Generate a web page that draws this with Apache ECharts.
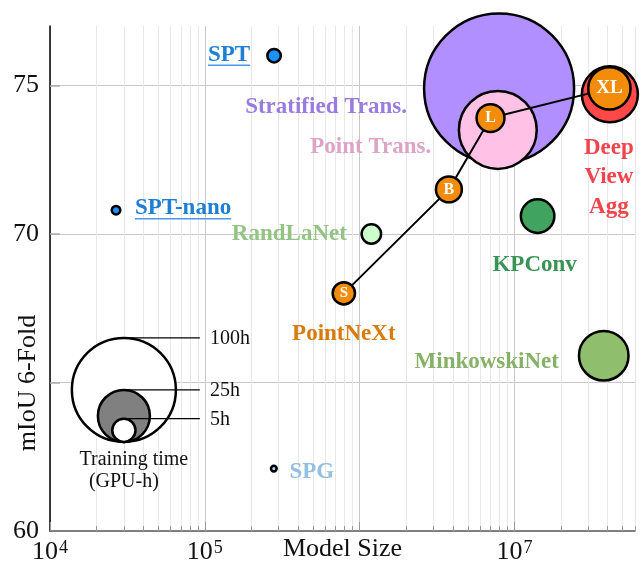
<!DOCTYPE html>
<html><head><meta charset="utf-8">
<script src="https://cdn.jsdelivr.net/npm/echarts@6/dist/echarts.min.js"></script>
<style>html,body{margin:0;padding:0;background:#fff}#c{width:641px;height:564px}</style>
</head><body><div id="c"></div>
<script>
// ---------- data ----------
const models      = ['SPT', 'SPT-nano', 'SPG', 'RandLaNet', 'Stratified Trans.', 'Point Trans.', 'DeepViewAgg', 'KPConv', 'MinkowskiNet'];
const modelLabels = ['SPT', 'SPT-nano', 'SPG', 'RandLaNet', 'Stratified Trans.', 'Point Trans.', 'Deep\nView\nAgg', 'KPConv', 'MinkowskiNet'];
const modelSize   = [2.8e5, 2.67e4, 2.79e5, 1.19e6, 7.95e6, 7.8e6, 4.13e7, 1.41e7, 3.77e7];
const modelMiou   = [76.0, 70.8, 62.1, 70.0, 74.9, 73.5, 74.7, 70.6, 65.9];
const modelHours  = [1.66, 0.68, 0.3, 3.5, 208, 56, 29, 10.4, 22.7];

const pnxName     = 'PointNeXt';
const pnxVariants = ['S', 'B', 'L', 'XL'];
const pnxSize     = [7.9e5, 3.77e6, 7.0e6, 4.1e7];
const pnxMiou     = [68.0, 71.5, 73.9, 74.9];
const pnxHours    = [4.6, 6.2, 7.2, 16.5];

const legendHours  = [100, 25, 5];
const legendLabels = ['100h', '25h', '5h'];
const legendTitle  = ['Training time', '(GPU-h)'];

const xMajorTicks = [1e4, 1e5, 1e6, 1e7];
const xLabelTicks = [1e4, 1e5, 1e7];
const yTicks      = [65, 70, 75];
const yLabelTicks = [60, 70, 75];
const xName = 'Model Size';
const yName = 'mIoU 6-Fold';

// ---------- styles ----------
const FONT = '"Liberation Serif", "Times New Roman", serif';
const K = 5.2;                       // radius px per sqrt(hour)
const sz = h => 2 * K * Math.sqrt(h);
const styles = {
  'SPT':               {fill: '#1e90ff', text: '#1f7fd4', off: [-45, -1], underline: true},
  'SPT-nano':          {fill: '#1e90ff', text: '#1f7fd4', off: [67, -2], underline: true},
  'SPG':               {fill: '#a8d4f2', text: '#94bfe0', off: [38, 3]},
  'RandLaNet':         {fill: '#ccffcc', text: '#93c483', off: [-82, 0]},
  'Stratified Trans.': {fill: '#b28fff', text: '#9a7ce0', off: [-173, 19]},
  'Point Trans.':      {fill: '#ffc2e6', text: '#dea4c6', off: [-127, 17]},
  'DeepViewAgg':       {fill: '#ff4848', text: '#f2454b', off: [-1, 83]},
  'KPConv':            {fill: '#40a460', text: '#389354', off: [-3, 49]},
  'MinkowskiNet':      {fill: '#8fbf6c', text: '#86b267', off: [-117, 6]}
};
const pnxFill = '#f28c0a', pnxText = '#d77b0c', pnxLabelOff = [0, 41];
const legendAnchor = [3e4, 63];
const legendFills = ['#ffffff', '#808080', '#ffffff'];
const LABEL_FS = 23;

// minor log ticks
const xMinor = [];
for (let d = 4; d <= 7; d++) for (let m = 2; m <= 9; m++) { const v = m * Math.pow(10, d); if (v <= 6e7) xMinor.push(v); }

// draw order: big bubbles first
const order = models.map((_, i) => i).sort((a, b) => modelHours[b] - modelHours[a]);

const modelData = order.map(i => {
  const st = styles[models[i]];
  return {
    name: models[i],
    value: [modelSize[i], modelMiou[i], modelHours[i]],
    itemStyle: {color: st.fill, borderColor: '#000', borderWidth: 2.5, opacity: 1},
    label: {
      show: true, position: 'inside', offset: st.off, formatter: modelLabels[i],
      color: st.text, fontFamily: FONT, fontWeight: 'bold', fontSize: LABEL_FS, lineHeight: 29.5
    }
  };
});

const chart = echarts.init(document.getElementById('c'), null, {renderer: 'canvas'});
const option = {
  animation: false,
  backgroundColor: '#fff',
  grid: {left: 50, right: 6, top: 26, bottom: 33, containLabel: false, outerBoundsMode: 'none'},
  xAxis: [{
    type: 'log', logBase: 10, min: 1e4, max: 6e7, position: 'bottom',
    axisLine: {show: true, lineStyle: {color: '#555', width: 1.5}},
    axisTick: {show: true, inside: true, length: 9, customValues: xMajorTicks, lineStyle: {color: '#999', width: 1}},
    splitLine: {show: true, lineStyle: {color: '#c8c8c8', width: 1}},
    axisLabel: {
      show: true, customValues: xLabelTicks, margin: 8,
      formatter: v => '{b|10}{s|' + Math.round(Math.log10(v)) + '}',
      rich: {
        b: {fontFamily: FONT, fontSize: 26, color: '#111'},
        s: {fontFamily: FONT, fontSize: 18, color: '#111', verticalAlign: 'top', padding: [0, 0, 0, 1]}
      }
    },
    name: xName, nameLocation: 'middle', nameGap: 5, nameMoveOverlap: false,
    nameTextStyle: {fontFamily: FONT, fontSize: 26, color: '#111', verticalAlign: 'top'}
  }, {
    type: 'log', logBase: 10, min: 1e4, max: 6e7, position: 'bottom', gridIndex: 0,
    axisLine: {show: false},
    axisTick: {show: true, inside: true, length: 5, customValues: xMinor, lineStyle: {color: '#999', width: 1}},
    splitLine: {show: true, lineStyle: {color: '#e8e8e8', width: 1}},
    axisLabel: {show: false}
  }],
  yAxis: {
    type: 'value', min: 60, max: 77, interval: 5,
    axisLine: {show: true, lineStyle: {color: '#000', width: 1.5}},
    axisTick: {show: true, inside: true, length: 10, customValues: yTicks, lineStyle: {color: '#aaa', width: 1.5}},
    splitLine: {show: true, lineStyle: {color: '#c8c8c8', width: 1}},
    axisLabel: {show: true, customValues: yLabelTicks, fontFamily: FONT, fontSize: 26, color: '#111', margin: 11}
  },
  series: [
    {
      name: 'legend', type: 'scatter', clip: false, silent: true, z: 3,
      symbol: 'circle', symbolOffset: [0, '-50%'],
      symbolSize: v => sz(v[2]),
      data: legendHours.map((h, i) => ({value: [legendAnchor[0], legendAnchor[1], h],
        itemStyle: {color: legendFills[i], borderColor: '#000', borderWidth: 2.5, opacity: 1}}))
    },
    {
      name: 'models', type: 'scatter', clip: false, silent: true, z: 4,
      symbol: 'circle', symbolSize: v => sz(v[2]),
      itemStyle: {opacity: 1},
      data: modelData
    },
    {
      name: pnxName, type: 'line', clip: false, silent: true, z: 5,
      symbol: 'circle', showSymbol: true, symbolSize: v => sz(v[2]),
      lineStyle: {color: '#000', width: 2},
      itemStyle: {color: pnxFill, borderColor: '#000', borderWidth: 2.5, opacity: 1},
      label: {
        show: true, position: 'inside', color: '#fff', fontFamily: FONT, fontWeight: 'bold',
        formatter: p => pnxVariants[p.dataIndex],
        fontSize: 16
      },
      data: pnxVariants.map((n, i) => ({
        value: [pnxSize[i], pnxMiou[i], pnxHours[i]],
        label: {fontSize: Math.round(11 + sz(pnxHours[i]) * 0.19)}
      }))
    },
    {
      name: pnxName + ' label', type: 'scatter', clip: false, silent: true, z: 6,
      symbol: 'circle', symbolSize: 1, itemStyle: {color: 'rgba(0,0,0,0)', opacity: 1},
      label: {show: true, position: 'inside', offset: pnxLabelOff, formatter: pnxName,
        color: pnxText, fontFamily: FONT, fontWeight: 'bold', fontSize: LABEL_FS},
      data: [[pnxSize[0], pnxMiou[0]]]
    }
  ]
};
chart.setOption(option);

// ---------- decorations computed from axis scales ----------
const graphics = [];
const a = chart.convertToPixel({gridIndex: 0}, legendAnchor);
legendHours.forEach((h, i) => {
  const topY = a[1] - sz(h);
  graphics.push({type: 'line', silent: true, z: 10,
    shape: {x1: a[0], y1: topY, x2: a[0] + 76, y2: topY},
    style: {stroke: '#000', lineWidth: 1.2}});
  graphics.push({type: 'text', silent: true, z: 10, x: a[0] + 86, y: topY + 1,
    style: {text: legendLabels[i], font: '20px ' + FONT, fill: '#111', align: 'left', verticalAlign: 'middle'}});
});
graphics.push({type: 'text', silent: true, z: 10, x: a[0] + 10, y: a[1] + 18,
  style: {text: legendTitle[0], font: '20px ' + FONT, fill: '#111', align: 'center', verticalAlign: 'middle'}});
graphics.push({type: 'text', silent: true, z: 10, x: a[0], y: a[1] + 40,
  style: {text: legendTitle[1], font: '20px ' + FONT, fill: '#111', align: 'center', verticalAlign: 'middle'}});

// y axis title
graphics.push({type: 'text', silent: true, z: 10, x: 28, y: 383, rotation: Math.PI / 2,
  style: {text: yName, font: '26px ' + FONT, fill: '#111', align: 'center', verticalAlign: 'middle'}});

// underlines for SPT labels
const ctx = document.createElement('canvas').getContext('2d');
ctx.font = 'bold ' + LABEL_FS + 'px ' + FONT;
models.forEach((m, i) => {
  const st = styles[m];
  if (!st.underline) return;
  const p = chart.convertToPixel({gridIndex: 0}, [modelSize[i], modelMiou[i]]);
  const w = ctx.measureText(modelLabels[i]).width;
  const cx = p[0] + st.off[0], cy = p[1] + st.off[1] + 10.5;
  graphics.push({type: 'line', silent: true, z: 10,
    shape: {x1: cx - w / 2, y1: cy, x2: cx + w / 2, y2: cy},
    style: {stroke: '#4a98e6', lineWidth: 1.5}});
});
chart.setOption({graphic: graphics});
</script>
</body></html>
